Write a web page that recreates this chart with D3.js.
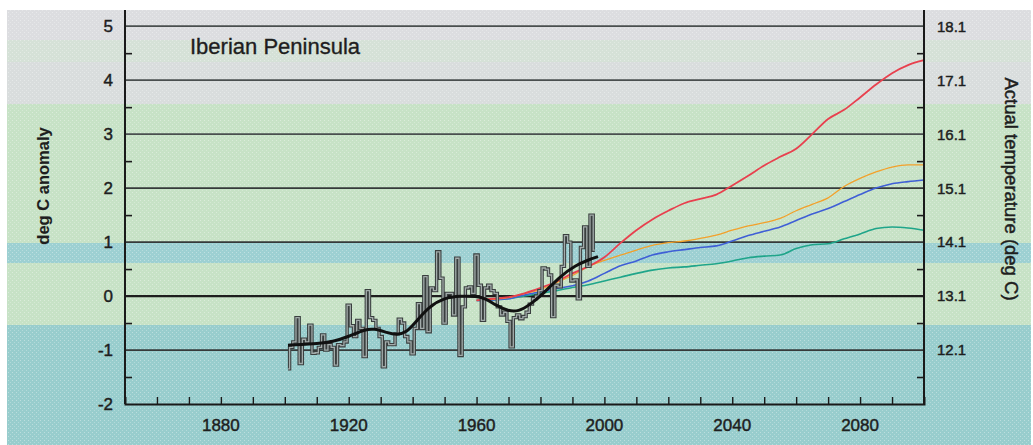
<!DOCTYPE html>
<html>
<head>
<meta charset="utf-8">
<script src="https://cdn.jsdelivr.net/npm/d3@7"></script>
<style>
  html, body { margin: 0; padding: 0; background: #ffffff; }
  svg { display: block; font-family: "Liberation Sans", Arial, Helvetica, sans-serif; }
  .lbl { fill: #1e1e1e; stroke: #1e1e1e; stroke-width: 0.45px; }
</style>
</head>
<body>
<svg id="chart" width="1033" height="445"></svg>
<script>
// ---- Observed annual temperature anomaly, Iberian Peninsula (deg C), 1901-1997
const obsStartYear = 1901;
const obsValues = [
  -1.35, -0.95, -0.85, -0.40, -1.25, -0.80, -0.85, -0.54, -1.06, -1.05,
  -0.95, -0.72, -1.00, -0.90, -0.95, -1.28, -0.90, -0.92, -0.85, -0.17,
  -0.55, -0.75, -0.45, -0.60, -1.12,  0.10, -0.40, -0.45, -0.60, -0.75,
  -1.31, -0.85, -0.90, -0.90, -0.70, -0.43, -0.50, -0.75, -0.85, -1.07,
  -0.60, -0.14, -0.60,  0.36, -0.66,  0.15,  0.10,  0.82,  0.33, -0.50,
   0.05,  0.05, -0.35,  0.70, -1.10, -0.20,  0.15,  0.17,  0.05,  0.76,
   0.20, -0.45,  0.15,  0.20,  0.10,  0.05, -0.20, -0.35, -0.30, -0.47,
  -0.94, -0.40, -0.35, -0.42, -0.38, -0.30, -0.15, -0.05,  0.00,  0.10,
   0.52,  0.50,  0.39, -0.38,  0.20,  0.17,  0.55,  1.12,  1.00,  0.28,
   0.30, -0.05,  0.90,  1.28,  0.55,  1.50,  0.85
];

// ---- Smoothed observed curve
const smoothYears  = [1901, 1905, 1910, 1915, 1920, 1925, 1928, 1932, 1935, 1938, 1941, 1945, 1950, 1955, 1960, 1963, 1966, 1970, 1973, 1977, 1981, 1986, 1991, 1995, 1998];
const smoothValues = [-0.91, -0.90, -0.88, -0.85, -0.75, -0.62, -0.60, -0.68, -0.72, -0.68, -0.48, -0.20, -0.03, 0.00, 0.00, -0.05, -0.17, -0.28, -0.29, -0.15, 0.05, 0.36, 0.57, 0.67, 0.73];

// ---- Model projections (anomaly, deg C)
const projYears = [1960, 1965, 1970, 1975, 1980, 1985, 1990, 1995, 2000, 2005, 2010, 2015, 2020, 2025, 2030, 2035, 2040, 2045, 2050, 2055, 2060, 2065, 2070, 2075, 2080, 2085, 2090, 2095, 2100];
const projGreen  = [-0.08, -0.07, -0.05, 0.00, 0.05, 0.10, 0.16, 0.21, 0.28, 0.35, 0.42, 0.48, 0.52, 0.54, 0.57, 0.60, 0.65, 0.71, 0.74, 0.76, 0.88, 0.95, 0.97, 1.06, 1.15, 1.25, 1.28, 1.26, 1.22];
const projBlue   = [-0.08, -0.07, -0.05, 0.02, 0.08, 0.14, 0.19, 0.28, 0.42, 0.56, 0.65, 0.76, 0.82, 0.86, 0.90, 0.93, 1.02, 1.12, 1.20, 1.28, 1.40, 1.52, 1.62, 1.75, 1.88, 2.00, 2.08, 2.12, 2.15];
const projOrange = [-0.08, -0.06, -0.03, 0.05, 0.12, 0.25, 0.38, 0.55, 0.66, 0.76, 0.85, 0.94, 0.99, 1.02, 1.07, 1.13, 1.22, 1.30, 1.36, 1.44, 1.58, 1.70, 1.82, 2.03, 2.18, 2.30, 2.39, 2.43, 2.43];
const projRed    = [-0.08, -0.05, -0.02, 0.05, 0.15, 0.27, 0.42, 0.55, 0.72, 0.98, 1.22, 1.42, 1.58, 1.72, 1.80, 1.88, 2.05, 2.23, 2.42, 2.58, 2.73, 3.00, 3.28, 3.45, 3.68, 3.92, 4.13, 4.28, 4.37];

// ---- Axis tick labels
const xTickYears   = [1880, 1920, 1960, 2000, 2040, 2080];
const yTickValues  = [-2, -1, 0, 1, 2, 3, 4, 5];
const rightLabels  = ["12.1", "13.1", "14.1", "15.1", "16.1", "17.1", "18.1"];
const rightValues  = [-1, 0, 1, 2, 3, 4, 5];

const svg = d3.select("#chart");
const W = 1033, H = 445;

const x = d3.scaleLinear().domain([1850, 2100]).range([125, 924]);
const y = d3.scaleLinear().domain([-2, 5.3]).range([404, 10]);

// ---- Background colour bands
const bands = [
  { y0: 10,  y1: 40,  c: "#dcdde0" },
  { y0: 40,  y1: 62,  c: "#d5e1d7" },
  { y0: 62,  y1: 104, c: "#d9dddd" },
  { y0: 104, y1: 243, c: "#c7e2c6" },
  { y0: 243, y1: 263, c: "#9dd0d2" },
  { y0: 263, y1: 325, c: "#c7e2c6" },
  { y0: 325, y1: 445, c: "#98cdcd" }
];
svg.append("g").selectAll("rect").data(bands).join("rect")
  .attr("x", 7).attr("width", W - 9)
  .attr("y", d => d.y0).attr("height", d => d.y1 - d.y0)
  .attr("fill", d => d.c);

// fine stipple texture
const defs = svg.append("defs");
const pat = defs.append("pattern").attr("id", "stipple")
  .attr("width", 4).attr("height", 4).attr("patternUnits", "userSpaceOnUse");
pat.append("rect").attr("x", 0).attr("y", 0).attr("width", 1).attr("height", 1).attr("fill", "#ffffff").attr("opacity", 0.35);
pat.append("rect").attr("x", 2).attr("y", 2).attr("width", 1).attr("height", 1).attr("fill", "#ffffff").attr("opacity", 0.25);
svg.append("rect").attr("x", 7).attr("y", 10).attr("width", W - 9).attr("height", H - 10)
  .attr("fill", "url(#stipple)");

// ---- Horizontal grid lines at whole degrees
svg.append("g").selectAll("line").data(yTickValues.filter(v => v > -2)).join("line")
  .attr("x1", x(1850)).attr("x2", x(2100))
  .attr("y1", d => y(d)).attr("y2", d => y(d))
  .attr("stroke", d => d === 0 ? "#1e1e1e" : (d >= 3 ? "#4a4f4f" : "#363a3a"))
  .attr("stroke-width", d => d === 0 ? 2.2 : 1.8);

// ---- Projections
const projLine = d3.line()
  .x((d, i) => x(projYears[i]))
  .y(d => y(d))
  .curve(d3.curveMonotoneX);
const projSeries = [
  { v: projGreen,  c: "#1fa58a", w: 1.6 },
  { v: projBlue,   c: "#3f5fd6", w: 1.6 },
  { v: projOrange, c: "#f3a02a", w: 1.3 },
  { v: projRed,    c: "#e8404e", w: 1.8 }
];
svg.append("g").selectAll("path").data(projSeries).join("path")
  .attr("d", d => projLine(d.v))
  .attr("fill", "none")
  .attr("stroke", d => d.c)
  .attr("stroke-width", d => d.w);

// ---- Observed annual series (stepped, outlined)
const obsYears = obsValues.map((v, i) => obsStartYear + i);
const obsLine = d3.line()
  .x((d, i) => x(obsYears[i]))
  .y(d => y(d))
  .curve(d3.curveStep);
svg.append("path").attr("d", obsLine(obsValues))
  .attr("fill", "none").attr("stroke", "#3a3f3f").attr("stroke-width", 3.4)
  .attr("stroke-linejoin", "miter");
svg.append("path").attr("d", obsLine(obsValues))
  .attr("fill", "none").attr("stroke", "#a3acab").attr("stroke-width", 1.3)
  .attr("stroke-linejoin", "miter");

// ---- Smoothed curve
svg.append("path")
  .attr("d", d3.line()
    .x((d, i) => x(smoothYears[i]))
    .y(d => y(d))
    .curve(d3.curveBasis)(smoothValues))
  .attr("fill", "none").attr("stroke", "#111111").attr("stroke-width", 3);

// ---- Axes
const axisColor = "#1a1a1a";
const xAxis = d3.axisBottom(x)
  .tickValues(d3.range(1860, 2100, 10))
  .tickSize(-7).tickFormat("");
const gx = svg.append("g").attr("transform", `translate(0,${y(-2)})`).call(xAxis);
gx.select(".domain").attr("stroke", axisColor).attr("stroke-width", 2);
gx.selectAll(".tick line").attr("stroke", axisColor).attr("stroke-width", 1.4);

svg.append("g").selectAll("text").data(xTickYears).join("text")
  .attr("class", "lbl")
  .attr("x", d => x(d)).attr("y", 431)
  .attr("text-anchor", "middle")
  .attr("font-size", 17)
  .text(d => d);

const yHalf = d3.range(-1.5, 5.0, 1);
const yAxisL = d3.axisLeft(y).tickValues(yHalf).tickSize(-7).tickFormat("");
const gyl = svg.append("g").attr("transform", `translate(${x(1850)},0)`).call(yAxisL);
gyl.select(".domain").attr("d", `M0,${y(5.3)}V${y(-2)}`).attr("stroke", axisColor).attr("stroke-width", 2);
gyl.selectAll(".tick line").attr("stroke", axisColor).attr("stroke-width", 1.6);

const yAxisR = d3.axisRight(y).tickValues(yHalf).tickSize(-7).tickFormat("");
const gyr = svg.append("g").attr("transform", `translate(${x(2100)},0)`).call(yAxisR);
gyr.select(".domain").attr("d", `M0,${y(5.3)}V${y(-2)}`).attr("stroke", axisColor).attr("stroke-width", 2);
gyr.selectAll(".tick line").attr("stroke", axisColor).attr("stroke-width", 1.6);

svg.append("g").selectAll("text").data(yTickValues).join("text")
  .attr("class", "lbl")
  .attr("x", 113).attr("y", d => y(d))
  .attr("dy", "0.36em")
  .attr("text-anchor", "end")
  .attr("font-size", 17)
  .text(d => d);

svg.append("g").selectAll("text").data(rightValues).join("text")
  .attr("class", "lbl")
  .attr("x", 937).attr("y", d => y(d))
  .attr("dy", "0.36em")
  .attr("text-anchor", "start")
  .attr("font-size", 15)
  .text((d, i) => rightLabels[i]);

// ---- Axis titles and region name
svg.append("text")
  .attr("class", "lbl")
  .attr("transform", `translate(49,186) rotate(-90)`)
  .attr("text-anchor", "middle")
  .attr("font-size", 16.5).attr("font-weight", "bold")
  .style("stroke-width", "0.1px")
  .text("deg C anomaly");

svg.append("text")
  .attr("class", "lbl")
  .attr("transform", `translate(1005,189) rotate(90)`)
  .attr("text-anchor", "middle")
  .attr("font-size", 18.5)
  .text("Actual temperature (deg C)");

svg.append("text")
  .attr("class", "lbl")
  .attr("x", 190).attr("y", 54)
  .attr("font-size", 22)
  .style("stroke-width", "0.35px")
  .text("Iberian Peninsula");
</script>
</body>
</html>
